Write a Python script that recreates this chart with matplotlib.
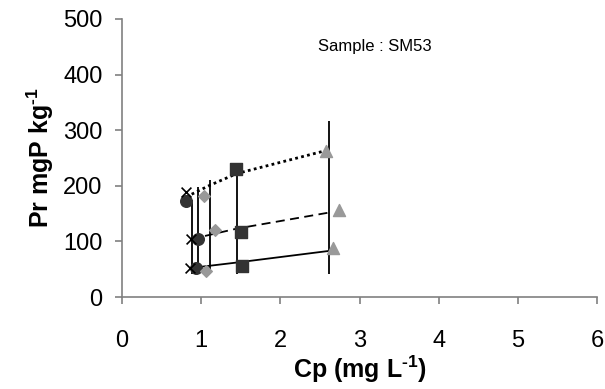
import numpy as np
import matplotlib.pyplot as plt

plt.rcParams['font.family'] = ['Liberation Sans', 'DejaVu Sans']
plt.rcParams['mathtext.fontset'] = 'custom'
plt.rcParams['mathtext.rm'] = 'Liberation Sans:bold'
plt.rcParams['mathtext.bf'] = 'Liberation Sans:bold'

# measured points (x = Cp, y = Pr), three levels each
cross_x = [0.81, 0.87, 0.86]
cross_y = [189, 104, 52]
circle_x = [0.81, 0.96, 0.93]
circle_y = [173, 105, 52]
diamond_x = [1.04, 1.18, 1.06]
diamond_y = [182, 120, 46]
square_x = [1.44, 1.50, 1.52]
square_y = [230, 117, 55]
triangle_x = [2.58, 2.74, 2.66]
triangle_y = [262, 157, 88]

# vertical bars
vline_x = [0.88, 0.955, 1.11, 1.45, 2.62]
vline_top = [174, 197, 210, 237, 317]
vline_bot = [41, 41, 41, 41, 41]

# fitted curves
solid_x = [0.86, 1.45, 2.62]
solid_y = [52, 62, 83]
dashed_x = [0.87, 1.45, 2.62]
dashed_y = [104, 123, 152]
dotted_x = [0.81, 1.11, 1.45, 2.62]
dotted_y = [180, 201, 222, 265]

fig = plt.figure(figsize=(6.05, 3.89), dpi=100)
ax = fig.add_axes([0.2017, 0.2365, 0.7853, 0.7147])

ax.vlines(vline_x, vline_bot, vline_top, colors='black', lw=1.3, zorder=2)

ax.plot(solid_x, solid_y, color='black', lw=1.3, ls='-', zorder=3)
ax.plot(dashed_x, dashed_y, color='black', lw=1.3, ls=(0, (5, 3)), zorder=3)
ax.plot(dotted_x, dotted_y, color='black', lw=2, ls=(0, (1, 1.2)), zorder=3)

ax.scatter(circle_x, circle_y, marker='o', s=70, color='#333333', zorder=4)
ax.scatter(diamond_x, diamond_y, marker='D', s=35, color='#999999', zorder=4)
ax.scatter(square_x, square_y, marker='s', s=70, color='#333333', zorder=4)
ax.scatter(triangle_x, triangle_y, marker='^', s=75, color='#999999', zorder=4)
ax.scatter(cross_x, cross_y, marker='x', s=50, color='black', linewidths=1.2, zorder=5)

ax.set_xlim(0, 6)
ax.set_ylim(0, 500)
ax.set_xticks(range(0, 7))
ax.set_yticks(range(0, 501, 100))

for s in ['top', 'right']:
    ax.spines[s].set_visible(False)
for s in ['left', 'bottom']:
    ax.spines[s].set_color('#808080')
    ax.spines[s].set_linewidth(1.2)
ax.tick_params(colors='#808080', labelcolor='black', labelsize=17, length=5, width=1.2)
ax.tick_params(axis='x', pad=19)
ax.tick_params(axis='y', pad=9)

ax.set_xlabel('Cp (mg L$^{\\text{-1}}$)', fontsize=18, fontweight='bold', labelpad=1)
ax.set_ylabel('Pr mgP kg$^{\\text{-1}}$', fontsize=18, fontweight='bold', labelpad=5)

ax.text(3.19, 450, 'Sample : SM53', fontsize=12, ha='center', va='center')

fig.savefig('out.png')
